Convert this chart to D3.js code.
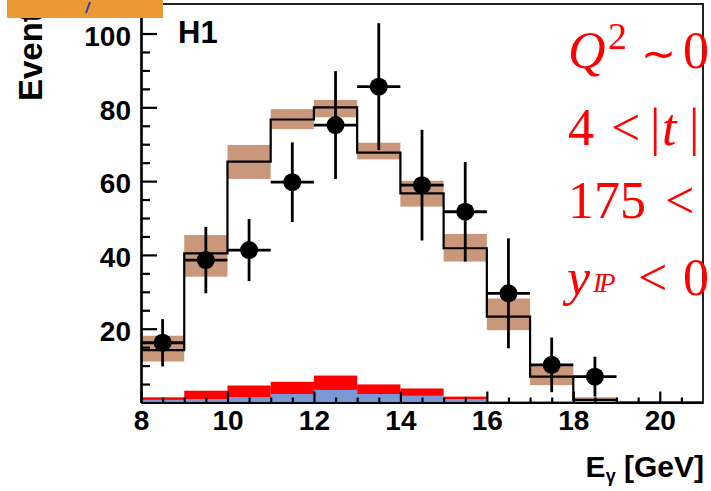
<!DOCTYPE html>
<html>
<head>
<meta charset="utf-8">
<script src="https://cdn.jsdelivr.net/npm/d3@7"></script>
<style>
  html, body { margin: 0; padding: 0; background: #fff; }
  svg { display: block; }
  .tick text { font-family: "Liberation Sans", Arial, sans-serif; font-weight: bold; }
</style>
</head>
<body>
<svg id="chart" width="711" height="491"></svg>
<script>
// Photon energy spectrum: data, simulation with systematic band, backgrounds
const binLow = [8, 9, 10, 11, 12, 13, 14, 15, 16, 17, 18, 19, 20];
const binWidth = 1;
const mcValue     = [14.2, 40.4, 65.3, 76.7, 80.0, 67.7, 56.7, 41.8, 23.3, 7.0, 0.7, 0, 0];
const mcBandLow   = [11.1, 34.1, 60.6, 74.1, 77.3, 65.9, 53.1, 38.2, 19.6, 4.7, 0.2, 0, 0];
const mcBandHigh  = [18.1, 45.4, 69.8, 79.5, 82.0, 70.4, 60.1, 45.7, 28.2, 10.2, 1.4, 0, 0];
const bgBlue      = [0.7, 0.95, 1.4, 2.3, 3.4, 2.3, 1.8, 0.9, 0.4, 0.4, 0.4, 0.4, 0.4];
const bgRed       = [0.7, 2.25, 3.2, 3.3, 3.9, 2.6, 2.0, 0.7, 0, 0, 0, 0, 0];

const dataE   = [8.5, 9.5, 10.5, 11.5, 12.5, 13.5, 14.5, 15.5, 16.5, 17.5, 18.5];
const dataN   = [16.2, 38.6, 41.3, 59.7, 75.2, 85.6, 58.9, 51.7, 29.6, 10.2, 7.0];
const dataErr = [6.4, 9.0, 8.4, 10.8, 14.6, 17.2, 15.0, 13.5, 14.9, 7.4, 5.4];

const xMajorTicks = [8, 10, 12, 14, 16, 18, 20];
const xMinorTicks = [8.5, 9, 9.5, 10.5, 11, 11.5, 12.5, 13, 13.5, 14.5, 15, 15.5, 16.5, 17, 17.5, 18.5, 19, 19.5, 20.5];
const yMajorTicks = [20, 40, 60, 80, 100];
const yMinorTicks = [5, 10, 15, 25, 30, 35, 45, 50, 55, 65, 70, 75, 85, 90, 95, 105];

const svg = d3.select("#chart");
const x = d3.scaleLinear().domain([8, 21]).range([141, 703]);
const y = d3.scaleLinear().domain([0, 108]).range([402.5, 4]);

const bins = binLow.map((lo, i) => ({
  lo, hi: lo + binWidth,
  mc: mcValue[i], bLo: mcBandLow[i], bHi: mcBandHigh[i],
  blue: bgBlue[i], red: bgRed[i]
}));

// background stack: blue component, red on top
const stack = d3.stack().keys(["blue", "red"])(bins);
const stackColors = { blue: "#7a98d6", red: "#ff0000" };
stack.forEach(layer => {
  svg.append("g").selectAll("rect")
    .data(layer)
    .join("rect")
    .attr("x", d => x(d.data.lo))
    .attr("width", d => x(d.data.hi) - x(d.data.lo))
    .attr("y", d => y(d[1]))
    .attr("height", d => Math.max(0, y(d[0]) - y(d[1])))
    .attr("fill", stackColors[layer.key]);
});

// systematic band of the simulation
svg.append("g").selectAll("rect")
  .data(bins.filter(d => d.bHi > d.bLo))
  .join("rect")
  .attr("x", d => x(d.lo))
  .attr("width", d => x(d.hi) - x(d.lo))
  .attr("y", d => y(d.bHi))
  .attr("height", d => y(d.bLo) - y(d.bHi))
  .attr("fill", "#c9977a");

// simulation histogram as a step line
const stepPts = bins.map(d => [d.lo, d.mc]);
stepPts.push([bins[bins.length - 1].hi, bins[bins.length - 1].mc]);
svg.append("path")
  .attr("d", d3.line().x(d => x(d[0])).y(d => y(d[1])).curve(d3.curveStepAfter)(stepPts))
  .attr("fill", "none")
  .attr("stroke", "#000")
  .attr("stroke-width", 2.2);

// axes
function styleAxis(g) {
  g.selectAll("path, line").attr("stroke", "#000").attr("stroke-width", 2.2);
}
svg.append("g").attr("transform", `translate(0,${y(0)})`)
  .call(d3.axisBottom(x).tickValues(xMinorTicks).tickSize(-5).tickSizeOuter(0).tickFormat(""))
  .call(styleAxis);
const xAx = svg.append("g").attr("transform", `translate(0,${y(0)})`)
  .call(d3.axisBottom(x).tickValues(xMajorTicks).tickSize(-11).tickSizeOuter(0).tickPadding(8).tickFormat(d3.format("d")))
  .call(styleAxis);
xAx.selectAll("text").attr("font-size", 28).attr("fill", "#000");

svg.append("g").attr("transform", `translate(${x(8)},0)`)
  .call(d3.axisLeft(y).tickValues(yMinorTicks).tickSize(-9).tickSizeOuter(0).tickFormat(""))
  .call(styleAxis);
const yAx = svg.append("g").attr("transform", `translate(${x(8)},0)`)
  .call(d3.axisLeft(y).tickValues(yMajorTicks).tickSize(-16).tickSizeOuter(0).tickPadding(10).tickFormat(d3.format("d")))
  .call(styleAxis);
yAx.selectAll("text").attr("font-size", 28).attr("fill", "#000").attr("dy", "0.42em");

// frame top and right
svg.append("path")
  .attr("d", `M${x(8)},${y(108)}H${x(21)}V${y(0)}`)
  .attr("fill", "none").attr("stroke", "#222").attr("stroke-width", 2);

// data points with error bars
const pts = dataE.map((e, i) => ({ e, n: dataN[i], err: dataErr[i] }));
const pg = svg.append("g");
pg.selectAll("line.v").data(pts).join("line").attr("class", "v")
  .attr("x1", d => x(d.e)).attr("x2", d => x(d.e))
  .attr("y1", d => y(d.n + d.err)).attr("y2", d => y(Math.max(0, d.n - d.err)))
  .attr("stroke", "#000").attr("stroke-width", 2.8);
pg.selectAll("line.h").data(pts).join("line").attr("class", "h")
  .attr("x1", d => x(d.e - binWidth / 2)).attr("x2", d => x(d.e + binWidth / 2))
  .attr("y1", d => y(d.n)).attr("y2", d => y(d.n))
  .attr("stroke", "#000").attr("stroke-width", 2.8);
pg.selectAll("circle").data(pts).join("circle")
  .attr("cx", d => x(d.e)).attr("cy", d => y(d.n)).attr("r", 9)
  .attr("fill", "#000");

// labels
svg.append("text").attr("x", 178).attr("y", 43)
  .attr("font-family", "Liberation Sans, Arial, sans-serif").attr("font-weight", "bold")
  .attr("font-size", 31).text("H1");

const xt = svg.append("text").attr("x", 704).attr("y", 477).attr("text-anchor", "end")
  .attr("font-family", "Liberation Sans, Arial, sans-serif").attr("font-weight", "bold")
  .attr("font-size", 30);
xt.append("tspan").text("E");
xt.append("tspan").attr("font-size", 18).attr("dy", 5).text("γ");
xt.append("tspan").attr("dy", -5).text(" [GeV]");

svg.append("text").attr("transform", "translate(42,101) rotate(-90)")
  .attr("font-family", "Liberation Sans, Arial, sans-serif").attr("font-weight", "bold")
  .attr("font-size", 33).text("Events");

// kinematic selection text
const red = svg.append("g").attr("fill", "#ff0000")
  .attr("font-family", "Liberation Serif, Times New Roman, serif").attr("font-size", 52);
const l1 = red.append("text").attr("y", 68);
l1.append("tspan").attr("x", 568).attr("font-style", "italic").text("Q");
l1.append("tspan").attr("x", 608).attr("dy", -19).attr("font-size", 38).text("2");
l1.append("tspan").attr("x", 641).attr("dy", 19).attr("font-size", 42).text("∼");
l1.append("tspan").attr("x", 683).attr("font-size", 52).text("0");

const l2 = red.append("text").attr("y", 145);
l2.append("tspan").attr("x", 650).text("|");
l2.append("tspan").attr("x", 568).text("4");
l2.append("tspan").attr("x", 611).text("<");
l2.append("tspan").attr("x", 662).attr("font-style", "italic").text("t");
l2.append("tspan").attr("x", 689).text("|");

const l3 = red.append("text").attr("y", 218);
l3.append("tspan").attr("x", 568).text("175");
l3.append("tspan").attr("x", 665).text("<");

const l4 = red.append("text").attr("y", 295);
l4.append("tspan").attr("x", 567).attr("font-style", "italic").text("y");
l4.append("tspan").attr("x", 593).attr("dy", -3).attr("font-size", 27)
  .attr("font-style", "italic").attr("letter-spacing", -3).text("IP");
l4.append("tspan").attr("x", 638).attr("dy", 3).text("<");
l4.append("tspan").attr("x", 683).text("0");

// header strip
svg.append("rect").attr("x", 7).attr("y", 0).attr("width", 156).attr("height", 18).attr("fill", "#e99a35");
svg.append("path").attr("d", "M90,2L86,13").attr("stroke", "#3c3ca8").attr("stroke-width", 2);
</script>
</body>
</html>
